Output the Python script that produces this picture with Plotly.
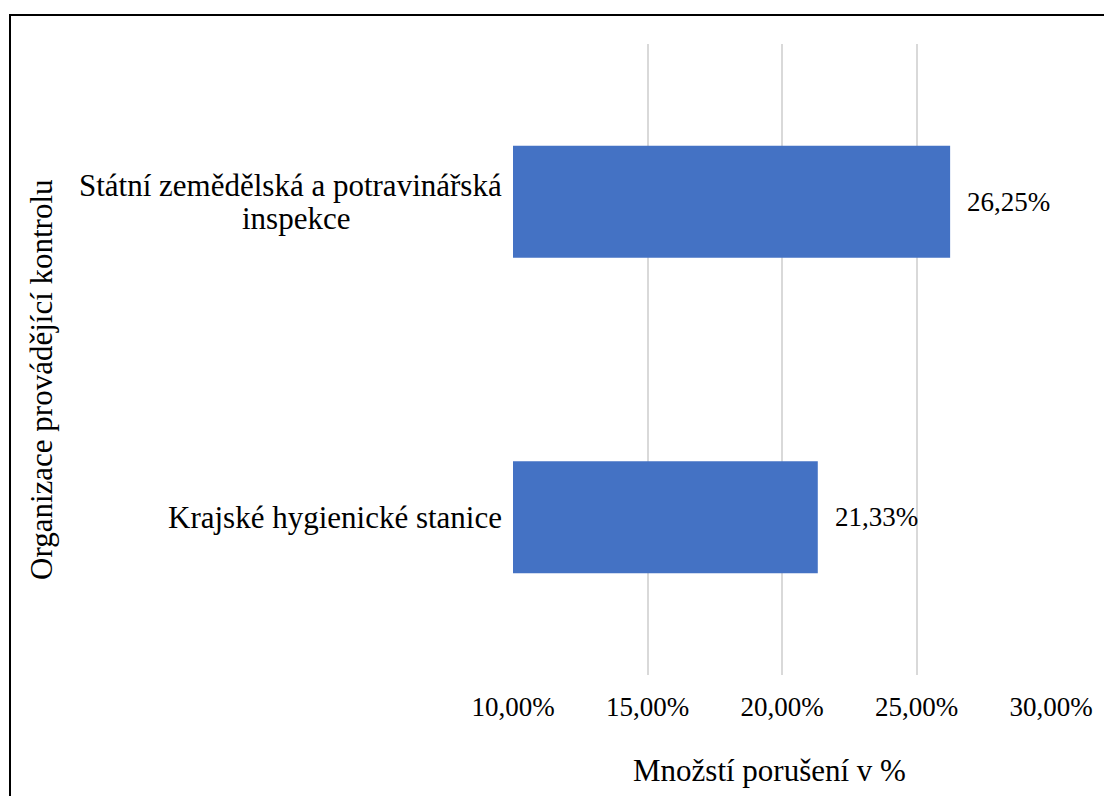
import plotly.graph_objects as go

categories = ["Krajské hygienické stanice", "Státní zemědělská a potravinářská inspekce"]
category_lines = [["Krajské hygienické stanice"], ["Státní zemědělská a potravinářská", "inspekce"]]
values = [0.2133, 0.2625]
x_ticks = [0.10, 0.15, 0.20, 0.25, 0.30]
x_title = "Množstí porušení v %"
y_title = "Organizace provádějící kontrolu"

FONT = "Liberation Serif"
FS_SMALL = 27
FS_BIG = 31

OFF = 8  # default page body margin
W, H = 1112 - OFF, 796 - OFF
L, T = 513 - OFF, 44 - OFF
pw, ph = 538, 631
R, B = W - L - pw, H - T - ph

def px(xp):
    return (xp - OFF - L) / pw

def py(yp):
    return (H - B - (yp - OFF)) / ph

fig = go.Figure()
fig.add_trace(go.Bar(
    x=values, y=categories, orientation="h",
    marker=dict(color="#4472C4", line=dict(width=0)),
    width=0.355,
    hoverinfo="x+y",
))

annotations = []
for c, v in zip(categories, values):
    annotations.append(dict(
        x=v, xref="x", y=c, yref="y", text=f"{v*100:.2f}%".replace(".", ","),
        showarrow=False, xanchor="left", yanchor="middle", xshift=15,
        font=dict(family=FONT, size=FS_SMALL, color="black"),
    ))
LINE_H = 33
for c, lines in zip(categories, category_lines):
    n = len(lines)
    if n == 1:
        annotations.append(dict(
            x=0, xref="paper", y=c, yref="y", text=lines[0], showarrow=False,
            xanchor="right", yanchor="middle", xshift=-9,
            font=dict(family=FONT, size=FS_BIG, color="black"),
        ))
    else:
        # first (widest) line right-aligned to axis; following lines centred under it
        annotations.append(dict(
            x=0, xref="paper", y=c, yref="y", text=lines[0], showarrow=False,
            xanchor="right", yanchor="middle", xshift=-9, yshift=LINE_H / 2,
            font=dict(family=FONT, size=FS_BIG, color="black"),
        ))
        for i, ln in enumerate(lines[1:], start=1):
            annotations.append(dict(
                x=px(296), xref="paper", y=c, yref="y", text=ln, showarrow=False,
                xanchor="center", yanchor="middle", yshift=LINE_H / 2 - i * LINE_H,
                font=dict(family=FONT, size=FS_BIG, color="black"),
            ))
annotations.append(dict(
    x=px(41), xref="paper", y=py(380), yref="paper", text=y_title, showarrow=False,
    textangle=-90, xanchor="center", yanchor="middle",
    font=dict(family=FONT, size=FS_BIG, color="black"),
))
annotations.append(dict(
    x=px(769), xref="paper", y=py(770), yref="paper", text=x_title, showarrow=False,
    xanchor="center", yanchor="middle",
    font=dict(family=FONT, size=FS_BIG, color="black"),
))

fig.update_layout(
    width=W, height=H,
    margin=dict(l=L, r=R, t=T, b=B, autoexpand=False),
    paper_bgcolor="white", plot_bgcolor="white",
    separators=", ",
    showlegend=False,
    font=dict(family=FONT, size=FS_SMALL, color="black"),
    annotations=annotations,
    shapes=[dict(type="rect", xref="paper", yref="paper",
                 x0=px(10), x1=px(1300), y0=py(900), y1=py(15),
                 line=dict(color="black", width=2), fillcolor="rgba(0,0,0,0)")],
)
fig.update_xaxes(
    range=[0.10, 0.30], tickvals=x_ticks, tickformat=".2%",
    showgrid=True, gridcolor="#D9D9D9", gridwidth=1.5,
    zeroline=False, showline=False, ticks="",
    ticklabelstandoff=13,
    tickfont=dict(family=FONT, size=FS_SMALL, color="black"),
)
fig.update_yaxes(
    categoryorder="array", categoryarray=categories,
    range=[-0.5, 1.5], showticklabels=False, showgrid=False,
    zeroline=False, showline=False, ticks="",
)

fig.write_html("out.html")
